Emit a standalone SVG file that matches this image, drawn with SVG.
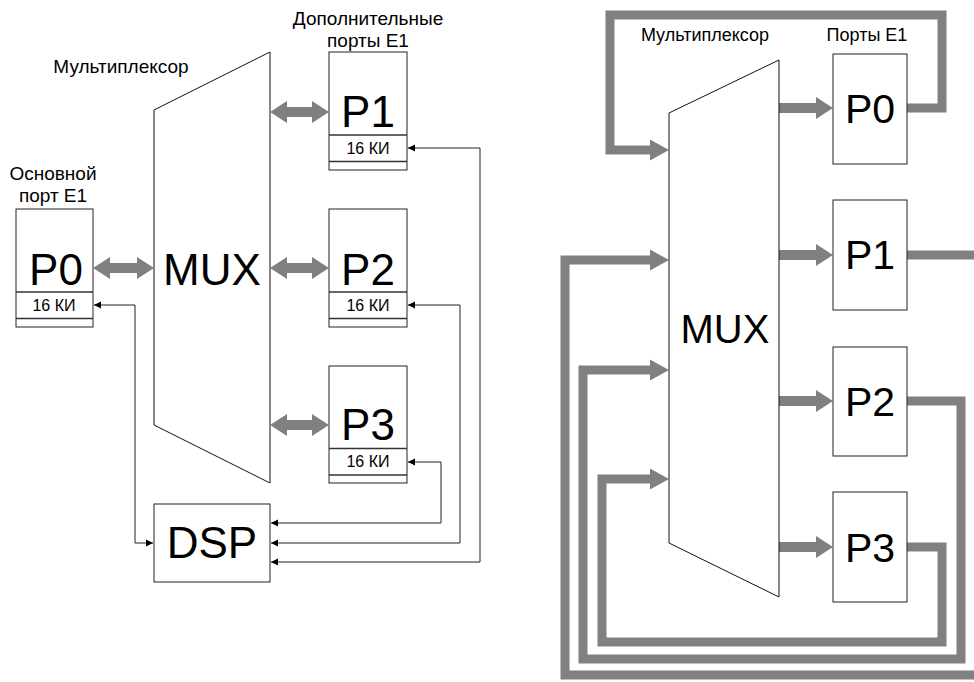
<svg xmlns="http://www.w3.org/2000/svg" width="974" height="682" viewBox="0 0 974 682">
<style>
text{font-family:"Liberation Sans",Arial,sans-serif;fill:#000}
.big{font-size:44px;text-anchor:middle}
.big2{font-size:41px;text-anchor:middle}
.lbl{font-size:19px;text-anchor:middle}
.lbl2{font-size:18px;text-anchor:middle}
.ki{font-size:16px;text-anchor:middle}
.box{fill:#fff;stroke:#222;stroke-width:1}
.div{stroke:#333;stroke-width:1.5}
.mux{fill:#fff;stroke:#111;stroke-width:1}
.thin{fill:none;stroke:#222;stroke-width:1;marker-end:url(#ah);marker-start:url(#ah)}
.fat{fill:#808080;stroke:none}
.wire{fill:none;stroke:#808080;stroke-width:9;stroke-linejoin:miter}
</style>
<defs>
<marker id="ah" markerWidth="8" markerHeight="8" refX="7" refY="4" orient="auto-start-reverse" markerUnits="userSpaceOnUse">
<path d="M0,0.5 L7,4 L0,7.5 Z" fill="#000"/>
</marker>
</defs>

<!-- LEFT DIAGRAM -->
<g id="label-main">
<text class="lbl" x="53" y="180">Основной</text>
<text class="lbl" x="53" y="202">порт E1</text>
</g>
<g id="label-add">
<text class="lbl" x="368" y="25">Дополнительные</text>
<text class="lbl" x="368" y="47">порты E1</text>
</g>
<g id="label-mux-l">
<text class="lbl" x="121" y="73">Мультиплексор</text>
</g>

<g id="mux-l">
<polygon class="mux" points="154,110 270,52 270,483 154,425"/>
<text class="big" x="212" y="285">MUX</text>
</g>

<g id="p0-l">
<rect class="box" x="16" y="209" width="77" height="118"/>
<line class="div" x1="16" y1="292" x2="93" y2="292"/>
<line class="div" x1="16" y1="318.5" x2="93" y2="318.5"/>
<text class="big" x="56" y="285">P0</text>
<text class="ki" x="54" y="311">16 КИ</text>
</g>
<g id="p1-l">
<rect class="box" x="329" y="52" width="78" height="118"/>
<line class="div" x1="329" y1="135" x2="407" y2="135"/>
<line class="div" x1="329" y1="161.5" x2="407" y2="161.5"/>
<text class="big" x="368" y="127">P1</text>
<text class="ki" x="368" y="154">16 КИ</text>
</g>
<g id="p2-l">
<rect class="box" x="329" y="209" width="78" height="118"/>
<line class="div" x1="329" y1="292" x2="407" y2="292"/>
<line class="div" x1="329" y1="318.5" x2="407" y2="318.5"/>
<text class="big" x="368" y="285">P2</text>
<text class="ki" x="368" y="311">16 КИ</text>
</g>
<g id="p3-l">
<rect class="box" x="329" y="366" width="78" height="117"/>
<line class="div" x1="329" y1="448.5" x2="407" y2="448.5"/>
<line class="div" x1="329" y1="475" x2="407" y2="475"/>
<text class="big" x="368" y="440">P3</text>
<text class="ki" x="368" y="467">16 КИ</text>
</g>
<g id="dsp">
<rect class="box" x="154" y="504" width="116" height="78"/>
<text class="big" x="212" y="558">DSP</text>
</g>

<g id="connectors-left">
<polygon class="fat" points="93,268 110,257 110,263 137,263 137,257 154,268 137,279 137,273 110,273 110,279"/>
<polygon class="fat" points="270,112 287,101 287,107 312,107 312,101 329,112 312,123 312,117 287,117 287,123"/>
<polygon class="fat" points="270,268 287,257 287,263 312,263 312,257 329,268 312,279 312,273 287,273 287,279"/>
<polygon class="fat" points="270,425 287,414 287,420 312,420 312,414 329,425 312,436 312,430 287,430 287,436"/>
<path class="thin" d="M94,305 H135 V543 H153"/>
<path class="thin" d="M408,148 H480 V562 H271"/>
<path class="thin" d="M408,305 H460 V543 H271"/>
<path class="thin" d="M408,462 H441 V523 H271"/>
</g>

<!-- RIGHT DIAGRAM -->
<g id="label-mux-r">
<text class="lbl2" x="705" y="41">Мультиплексор</text>
</g>
<g id="label-ports-r">
<text class="lbl2" x="867" y="41">Порты E1</text>
</g>

<g id="connectors-right">
<path class="wire" d="M907,108 H942 V15 H610 V150 H652"/>
<path class="wire" d="M907,255 H980"/>
<path class="wire" d="M980,675 H565 V260 H652"/>
<path class="wire" d="M907,401 H961 V659 H583 V370 H652"/>
<path class="wire" d="M907,547 H942 V642 H602 V479 H652"/>
<polygon class="fat" points="650,139.5 669,150 650,160.5"/>
<polygon class="fat" points="650,249.5 669,260 650,270.5"/>
<polygon class="fat" points="650,359.5 669,370 650,380.5"/>
<polygon class="fat" points="650,468.5 669,479 650,489.5"/>
<polygon class="fat" points="779,103 816,103 816,97 833,108 816,119 816,113 779,113"/>
<polygon class="fat" points="779,250 816,250 816,244 833,255 816,266 816,260 779,260"/>
<polygon class="fat" points="779,396 816,396 816,390 833,401 816,412 816,406 779,406"/>
<polygon class="fat" points="779,542 816,542 816,536 833,547 816,558 816,552 779,552"/>
</g>

<g id="mux-r">
<polygon class="mux" points="669,113 779,60 779,597 669,543"/>
<text class="big2" x="725" y="343" style="font-size:40px">MUX</text>
</g>
<g id="p0-r">
<rect class="box" x="833" y="54" width="74" height="110"/>
<text class="big2" x="870" y="123">P0</text>
</g>
<g id="p1-r">
<rect class="box" x="833" y="200" width="74" height="110"/>
<text class="big2" x="870" y="269">P1</text>
</g>
<g id="p2-r">
<rect class="box" x="833" y="347" width="74" height="109"/>
<text class="big2" x="870" y="416">P2</text>
</g>
<g id="p3-r">
<rect class="box" x="833" y="492" width="74" height="110"/>
<text class="big2" x="870" y="562">P3</text>
</g>
</svg>
